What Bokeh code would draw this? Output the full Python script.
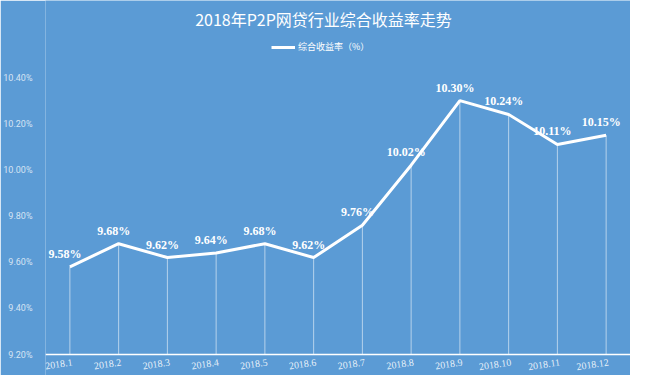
from bokeh.plotting import figure
from bokeh.models import (ColumnDataSource, FixedTicker, PrintfTickFormatter,
                          Legend, LegendItem, LabelSet, Label, Span)
from bokeh.embed import file_html
from bokeh.resources import INLINE

months = ["2018.1", "2018.2", "2018.3", "2018.4", "2018.5", "2018.6",
          "2018.7", "2018.8", "2018.9", "2018.10", "2018.11", "2018.12"]
rates = [9.58, 9.68, 9.62, 9.64, 9.68, 9.62, 9.76, 10.02, 10.30, 10.24, 10.11, 10.15]
y_ticks = [9.2, 9.4, 9.6, 9.8, 10.0, 10.2, 10.4]
title_text = "2018年P2P网贷行业综合收益率走势"
series_name = "综合收益率（%）"

BG = "#5b9bd5"
W, H = 630, 375
LEFT = 45
Y0, Y1 = 9.2, 10.4
Y1_PX = 77        # pixel row of the top tick
Y0_PX = 354       # pixel row of the bottom tick / axis line
px_per_unit = (Y0_PX - Y1_PX) / (Y1 - Y0)
y_end = Y1 + Y1_PX / px_per_unit          # frame reaches canvas top
y_start = Y0 - (H - Y0_PX) / px_per_unit  # frame reaches canvas bottom
NUM_FONT = "Roboto"
VAL_FONT = "DejaVu Sans"

src = ColumnDataSource(dict(
    m=months, r=rates, base=[Y0] * len(months),
    lab=["%.2f%%" % v for v in rates]))

p = figure(width=W, height=H, x_range=months, y_range=(y_start, y_end),
           output_backend="svg", toolbar_location=None,
           background_fill_color=BG, border_fill_color=BG,
           min_border_left=LEFT, min_border_right=0, min_border_bottom=0,
           min_border_top=0, outline_line_color=None)
p.x_range.range_padding = 0
p.xgrid.visible = False
p.ygrid.visible = False

# title (inside the frame area, top)
title_y = Y1 + (Y1_PX - 18) / px_per_unit
p.add_layout(Label(x=(323 - LEFT) / ((W - LEFT) / len(months)), y=title_y,
                   text=title_text, text_align="center", text_baseline="middle",
                   text_color="white", text_font="Noto Sans CJK SC",
                   text_font_size="16px"))

# drop lines
p.segment(x0="m", y0="base", x1="m", y1="r", source=src,
          line_color="white", line_alpha=0.55, line_width=1)
# x axis line
p.add_layout(Span(location=Y0, dimension="width", line_color="white",
                  line_width=1.5))
line = p.line(x="m", y="r", source=src, line_color="white", line_width=3)

labels = LabelSet(x="m", y="r", text="lab", source=src, text_align="center",
                  text_baseline="bottom", x_offset=-5, y_offset=6,
                  text_color="white", text_font=VAL_FONT,
                  text_font_size="12px", text_font_style="bold")
p.add_layout(labels)

# category labels (slanted, right end anchored at the category)
xlabels = LabelSet(x="m", y="base", text="m", source=src, text_align="right",
                   text_baseline="top", angle=0.15, x_offset=2, y_offset=-4,
                   text_color="white", text_alpha=0.85, text_font=NUM_FONT,
                   text_font_size="10px")
p.add_layout(xlabels)

legend = Legend(items=[LegendItem(label=series_name, renderers=[line])],
                orientation="horizontal",
                location=(271 - LEFT, H - 53),
                background_fill_alpha=0, border_line_color=None,
                label_text_color="white", label_text_font="Noto Sans CJK SC",
                label_text_font_size="9px", glyph_width=24, glyph_height=12,
                label_height=12, label_standoff=3, padding=0, margin=0)
p.add_layout(legend)

ya = p.yaxis[0]
ya.ticker = FixedTicker(ticks=y_ticks)
ya.formatter = PrintfTickFormatter(format="%.2f%%")
ya.axis_line_color = None
ya.major_tick_line_color = None
ya.minor_tick_line_color = None
ya.major_label_text_color = "white"
ya.major_label_text_alpha = 0.75
ya.major_label_text_font = NUM_FONT
ya.major_label_text_font_size = "9px"
ya.major_label_standoff = 7

p.xaxis.visible = False

open("out.html", "w").write(file_html(p, INLINE))
